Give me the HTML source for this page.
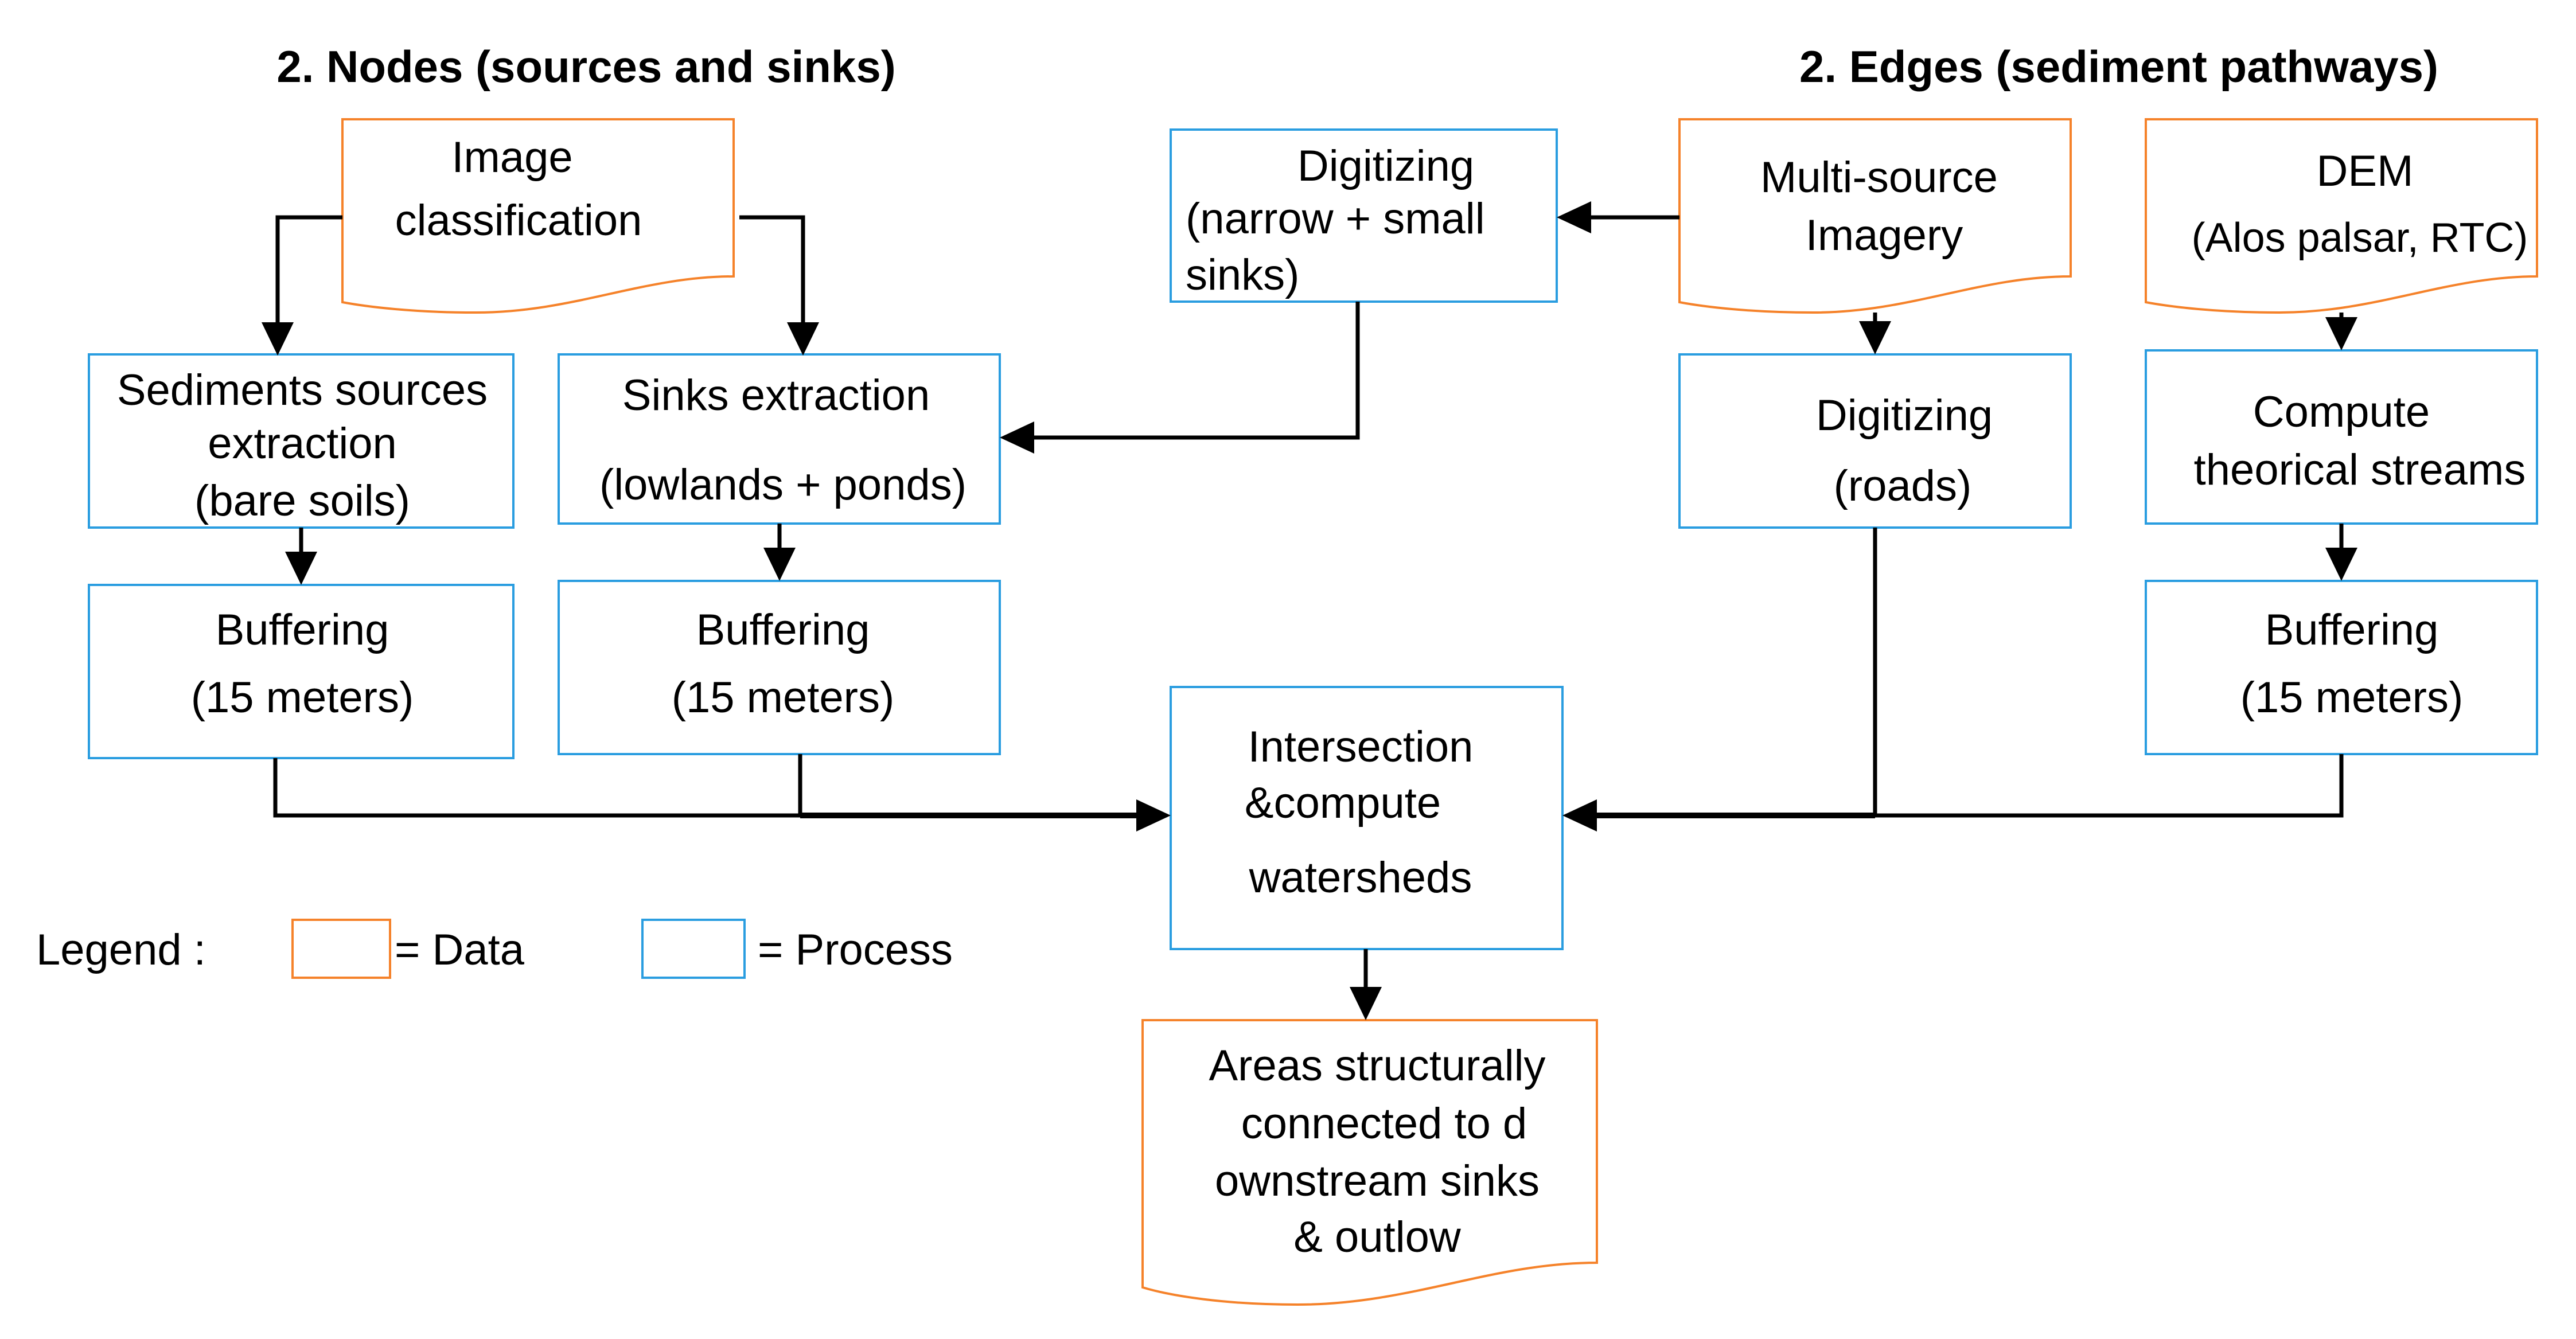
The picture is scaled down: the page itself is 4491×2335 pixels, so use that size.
<!DOCTYPE html>
<html><head><meta charset="utf-8"><style>html,body{margin:0;padding:0;background:#fff}svg{display:block}text{font-family:"Liberation Sans",Arial,sans-serif}</style></head><body>
<svg xmlns="http://www.w3.org/2000/svg" width="4491" height="2335" viewBox="0 0 4491 2335">
<rect width="4491" height="2335" fill="#fff"/>
<g font-size="78" fill="#000" font-weight="bold" text-anchor="middle">
<text x="1022" y="143">2. Nodes (sources and sinks)</text>
<text x="3694" y="143">2. Edges (sediment pathways)</text>
</g>
<g fill="#fff" stroke="#f5822a" stroke-width="4">
<path d="M597,527 V208 H1279 V482 C1120,482 1000,545 830,545 C720,545 640,535 597,527 Z"/>
<path d="M2928,527 V208 H3610 V482 C3451,482 3331,545 3161,545 C3051,545 2971,535 2928,527 Z"/>
<path d="M3741,527 V208 H4423 V482 C4264,482 4144,545 3974,545 C3864,545 3784,535 3741,527 Z"/>
<path d="M1992,2245 V1779 H2784 V2202 C2600,2202 2460,2275 2262,2275 C2135,2275 2042,2260 1992,2245 Z"/>
<rect x="510" y="1604" width="170" height="101"/>
</g>
<g fill="#fff" stroke="#2a9de0" stroke-width="4">
<rect x="155" y="618" width="740" height="302"/>
<rect x="974" y="618" width="769" height="295"/>
<rect x="155" y="1020" width="740" height="302"/>
<rect x="974" y="1013" width="769" height="302"/>
<rect x="2041" y="226" width="673" height="300"/>
<rect x="2928" y="618" width="682" height="302"/>
<rect x="3741" y="611" width="682" height="302"/>
<rect x="3741" y="1013" width="682" height="302"/>
<rect x="2041" y="1198" width="683" height="457"/>
<rect x="1120" y="1604" width="178" height="101"/>
</g>
<g fill="none" stroke="#000" stroke-width="7">
<polyline points="597,379 484,379 484,570"/>
<polyline points="1289,379 1400,379 1400,570"/>
<line x1="525" y1="920" x2="525" y2="972"/>
<line x1="1359" y1="913" x2="1359" y2="965"/>
<polyline points="2367,526 2367,763 1795,763"/>
<line x1="2928" y1="379" x2="2770" y2="379"/>
<line x1="3269" y1="545" x2="3269" y2="570"/>
<line x1="4082" y1="545" x2="4082" y2="563"/>
<line x1="4082" y1="913" x2="4082" y2="965"/>
<polyline points="480,1322 480,1422 1395,1422"/>
<line x1="1395" y1="1315" x2="1395" y2="1422"/>
<line x1="1395" y1="1422" x2="1985" y2="1422" stroke-width="10"/>
<line x1="3269" y1="920" x2="3269" y2="1422"/>
<polyline points="4082,1315 4082,1422 3269,1422"/>
<line x1="3269" y1="1422" x2="2780" y2="1422" stroke-width="10"/>
<line x1="2381" y1="1655" x2="2381" y2="1730"/>
</g>
<g fill="#000">
<polygon points="456,562 512,562 484,620"/>
<polygon points="1372,562 1428,562 1400,620"/>
<polygon points="497,962 553,962 525,1020"/>
<polygon points="1331,955 1387,955 1359,1013"/>
<polygon points="1803,735 1803,791 1743,763"/>
<polygon points="2774,351 2774,407 2714,379"/>
<polygon points="3241,560 3297,560 3269,618"/>
<polygon points="4054,553 4110,553 4082,611"/>
<polygon points="4054,955 4110,955 4082,1013"/>
<polygon points="1981,1394 1981,1450 2041,1422"/>
<polygon points="2784,1394 2784,1450 2724,1422"/>
<polygon points="2353,1721 2409,1721 2381,1779"/>
</g>
<g font-size="76" fill="#000" text-anchor="middle">
<text x="893" y="300">Image</text>
<text x="904" y="410">classification</text>
<text x="527" y="706">Sediments sources</text>
<text x="527" y="799">extraction</text>
<text x="527" y="899">(bare soils)</text>
<text x="1353" y="715">Sinks extraction</text>
<text x="1365" y="871">(lowlands + ponds)</text>
<text x="527" y="1124">Buffering</text>
<text x="527" y="1242">(15 meters)</text>
<text x="1365" y="1124">Buffering</text>
<text x="1365" y="1242">(15 meters)</text>
<text x="4100" y="1124">Buffering</text>
<text x="4100" y="1242">(15 meters)</text>
<text x="2416" y="315">Digitizing</text>
<text x="2067" y="407" text-anchor="start">(narrow + small</text>
<text x="2067" y="505" text-anchor="start">sinks)</text>
<text x="3276" y="335">Multi-source</text>
<text x="3285" y="436">Imagery</text>
<text x="4123" y="324">DEM</text>
<text x="4114" y="439" font-size="72">(Alos palsar, RTC)</text>
<text x="3320" y="750">Digitizing</text>
<text x="3317" y="873">(roads)</text>
<text x="4082" y="744">Compute</text>
<text x="4114" y="845">theorical streams</text>
<text x="2372" y="1328">Intersection</text>
<text x="2341" y="1426">&amp;compute</text>
<text x="2372" y="1556">watersheds</text>
<text x="2401" y="1884">Areas structurally</text>
<text x="2413" y="1985">connected to d</text>
<text x="2401" y="2085">ownstream sinks</text>
<text x="2401" y="2183">&amp; outlow</text>
<text x="63" y="1682" text-anchor="start">Legend :</text>
<text x="688" y="1682" text-anchor="start">= Data</text>
<text x="1321" y="1682" text-anchor="start">= Process</text>
</g>
</svg>
</body></html>
